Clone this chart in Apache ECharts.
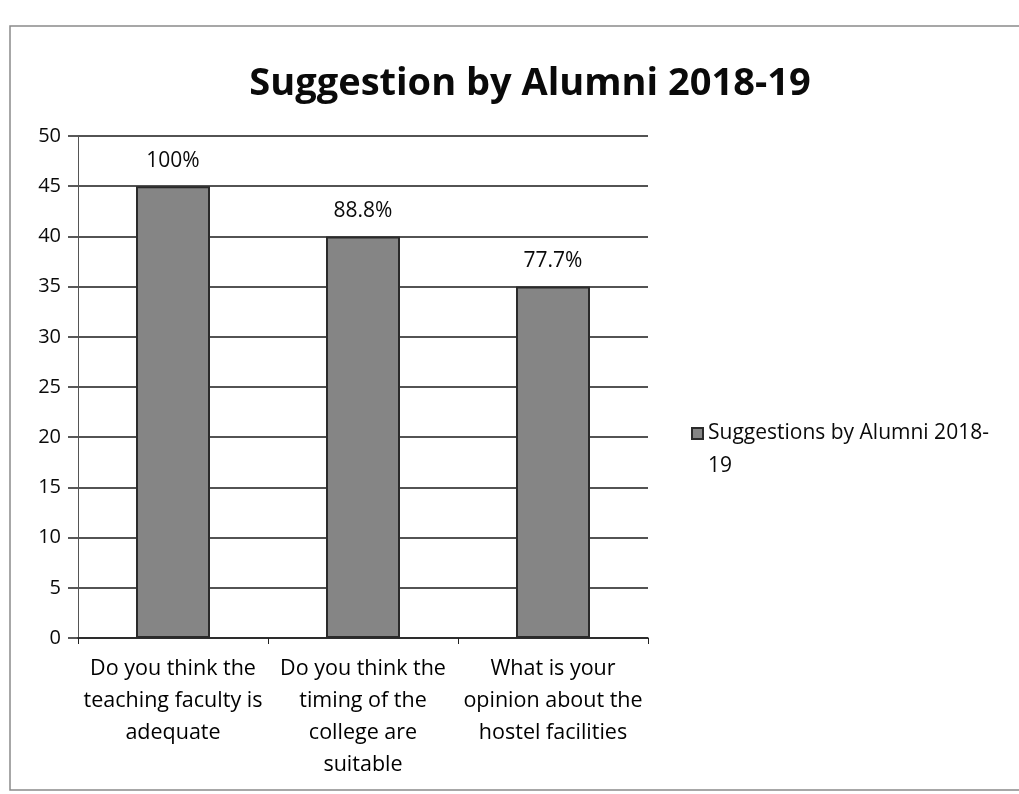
<!DOCTYPE html>
<html>
<head>
<meta charset="utf-8">
<script src="https://cdn.jsdelivr.net/npm/echarts@6/dist/echarts.min.js"></script>
<style>
  html, body { margin: 0; padding: 0; background: #ffffff; }
  #chart { width: 1019px; height: 794px; }
</style>
</head>
<body>
<div id="chart"></div>
<script>
// Survey questions shown along the x axis
const categories = [
  'Do you think the\nteaching faculty is\nadequate',
  'Do you think the\ntiming of the\ncollege are\nsuitable',
  'What is your\nopinion about the\nhostel facilities'
];
// Number of positive responses per question
const responses = [45, 40, 35];
// Share of positive responses, printed above each bar
const percentLabels = ['100%', '88.8%', '77.7%'];
const seriesName = 'Suggestions by Alumni 2018-\n19';

const font = '"Open Sans", "Liberation Sans", sans-serif';
const chart = echarts.init(document.getElementById('chart'));

chart.setOption({
  animation: false,
  backgroundColor: '#ffffff',
  title: {
    text: 'Suggestion by Alumni 2018-19',
    left: 525,
    textAlign: 'center',
    top: 60,
    textStyle: { fontFamily: font, fontSize: 38, fontWeight: 'bold', color: '#0a0a0a' }
  },
  legend: {
    orient: 'vertical',
    left: 686,
    top: 412,
    itemWidth: 11,
    itemHeight: 44,
    itemGap: 6,
    // square marker sitting level with the first line of the two-line name
    data: [{ name: seriesName, icon: 'path://M0,0L11,0L11,11L0,11Z M0,44' }],
    textStyle: { fontFamily: font, fontSize: 21, color: '#0a0a0a', lineHeight: 33 }
  },
  grid: { left: 78, right: 371, top: 136, bottom: 156, containLabel: false },
  xAxis: {
    type: 'category',
    data: categories,
    axisLine: { show: true, lineStyle: { color: '#222', width: 1.5 } },
    axisTick: { show: true, length: 6, lineStyle: { color: '#222' } },
    axisLabel: {
      interval: 0,
      margin: 15,
      fontFamily: font,
      fontSize: 21.5,
      fontWeight: 500,
      lineHeight: 32,
      color: '#000',
      align: 'center'
    }
  },
  yAxis: {
    type: 'value',
    min: 0,
    max: 50,
    interval: 5,
    axisLine: { show: true, lineStyle: { color: '#555', width: 1 } },
    axisTick: { show: true, length: 10, inside: false, lineStyle: { color: '#222', width: 1.5 } },
    axisLabel: { margin: 17, fontFamily: font, fontSize: 20, color: '#0a0a0a' },
    splitLine: { show: true, lineStyle: { color: '#1a1a1a', width: 1.6 } }
  },
  series: [{
    name: seriesName,
    type: 'bar',
    data: responses,
    barWidth: 74,
    itemStyle: { color: '#858585', borderColor: '#2a2a2a', borderWidth: 2 },
    label: {
      show: true,
      position: 'top',
      distance: 15,
      fontFamily: font,
      fontSize: 21,
      color: '#0a0a0a',
      formatter: p => percentLabels[p.dataIndex]
    }
  }],
  graphic: [{
    type: 'rect',
    shape: { x: 10, y: 26, width: 1015, height: 764 },
    style: { fill: 'none', stroke: '#8a8a8a', lineWidth: 1.5 },
    silent: true
  }]
});
</script>
</body>
</html>
